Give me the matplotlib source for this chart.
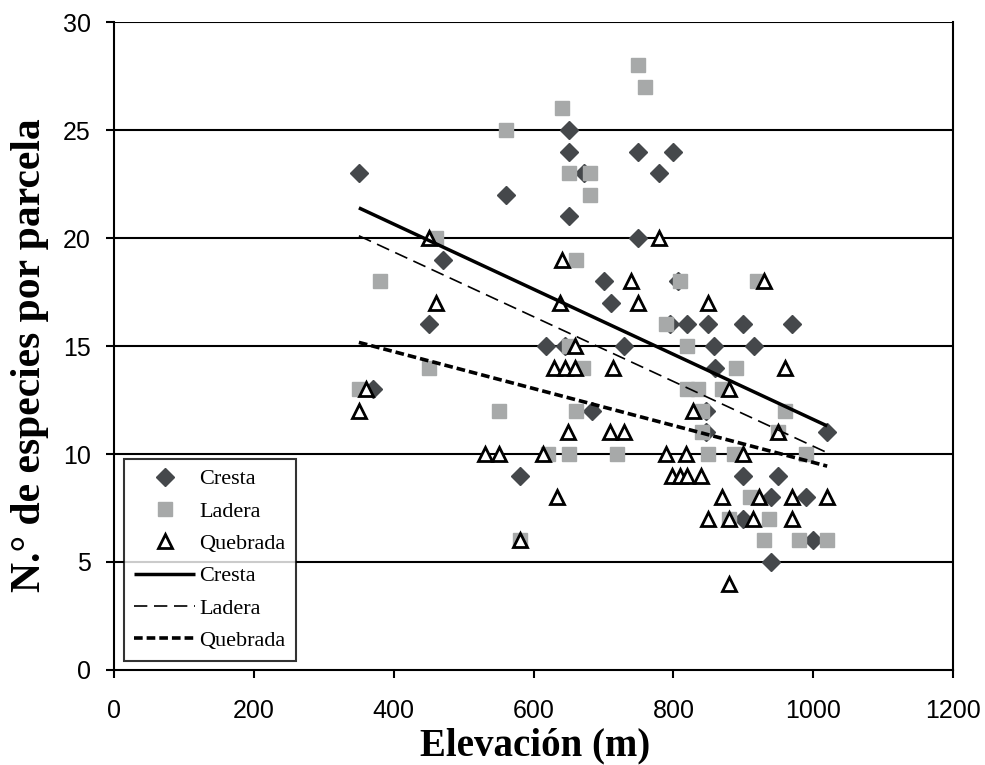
import matplotlib
matplotlib.use("Agg")
import matplotlib.pyplot as plt
import numpy as np

# datos
cresta_x = [350, 370, 450, 470, 560, 580, 618, 645, 650, 650, 650, 672, 684, 700, 710, 730,
            750, 750, 780, 800, 795, 806, 820, 846, 846, 850, 858, 860, 900, 900, 900, 915,
            940, 940, 950, 970, 990, 1000, 1020]
cresta_y = [23, 13, 16, 19, 22, 9, 15, 15, 25, 24, 21, 23, 12, 18, 17, 15,
            24, 20, 23, 24, 16, 18, 16, 12, 11, 16, 15, 14, 16, 9, 7, 15,
            8, 5, 9, 16, 8, 6, 11]

ladera_x = [350, 380, 450, 460, 550, 560, 580, 621, 640, 650, 650, 650, 660, 660, 670, 680,
            680, 720, 750, 760, 790, 810, 820, 820, 835, 841, 841, 850, 870, 880, 887, 890,
            910, 920, 930, 937, 950, 960, 980, 990, 1020]
ladera_y = [13, 18, 14, 20, 12, 25, 6, 10, 26, 23, 15, 10, 19, 12, 14, 23,
            22, 10, 28, 27, 16, 18, 15, 13, 13, 12, 11, 10, 13, 7, 10, 14,
            8, 18, 6, 7, 11, 12, 6, 10, 6]

quebrada_x = [350, 360, 450, 460, 530, 550, 580, 614, 629, 634, 638, 640, 645, 649, 659, 659,
              709, 713, 729, 739, 749, 780, 789, 798, 809, 818, 820, 828, 840, 850, 850, 869,
              880, 880, 880, 899, 914, 923, 930, 950, 960, 969, 969, 1020]
quebrada_y = [12, 13, 20, 17, 10, 10, 6, 10, 14, 8, 17, 19, 14, 11, 14, 15,
              11, 14, 11, 18, 17, 20, 10, 9, 9, 10, 9, 12, 9, 17, 7, 8,
              13, 7, 4, 10, 7, 8, 18, 11, 14, 8, 7, 8]

# rectas de tendencia (pendiente, intercepto)
trend_slope = [-0.01507, -0.01499, -0.00855]
trend_icpt = [26.67, 25.35, 18.16]
grupos = ["Cresta", "Ladera", "Quebrada"]

plt.rcParams['font.family'] = ['Liberation Serif', 'DejaVu Serif']

fig = plt.figure(figsize=(9.85, 7.65), dpi=100)
ax = fig.add_axes([0.116, 0.1242, 0.8515, 0.847])

for y in range(5, 31, 5):
    ax.axhline(y, color="black", lw=1.5, zorder=1)

ax.plot(cresta_x, cresta_y, ls="none", marker="D", ms=9, color="#45484b", mec="#45484b",
        label="Cresta", zorder=3)
ax.plot(ladera_x, ladera_y, ls="none", marker="s", ms=10, color="#a7a9a9", mec="#a7a9a9",
        label="Ladera", zorder=4)
ax.plot(quebrada_x, quebrada_y, ls="none", marker="^", ms=9.5, mfc="white", mec="black",
        mew=2, label="Quebrada", zorder=5)

xs = np.array([350, 1020])
estilos = [dict(ls="-", lw=2.5), dict(ls=(0, (8, 4)), lw=1.2), dict(ls=(0, (2.4, 1.1)), lw=2.6)]
for g, m, b, st in zip(grupos, trend_slope, trend_icpt, estilos):
    ax.plot(xs, m * xs + b, color="black", label=g, zorder=6, solid_capstyle="butt",
            dash_capstyle="butt", **st)

ax.set_xlim(0, 1200)
ax.set_ylim(0, 30)
ax.set_xticks(range(0, 1201, 200))
ax.set_yticks(range(0, 31, 5))
for lab in ax.get_xticklabels() + ax.get_yticklabels():
    lab.set_family("Liberation Sans")
    lab.set_fontsize(18)
ax.tick_params(direction="out", length=6, width=1.5)
ax.tick_params(axis="x", pad=15)
ax.tick_params(axis="y", pad=11)
for s in ax.spines.values():
    s.set_linewidth(1.5)
ax.spines["top"].set_visible(False)

ax.set_xlabel("Elevación (m)", fontsize=28, fontweight="bold", va="baseline")
ax.xaxis.set_label_coords(0.5016, -0.1315)
ax.set_ylabel("N.° de especies por parcela", fontsize=30, fontweight="bold")
ax.yaxis.set_label_coords(-0.078, 0.486)

leg = ax.legend(loc="lower left", bbox_to_anchor=(0.0116, 0.0139), borderaxespad=0,
                fontsize=16, frameon=True, fancybox=False, edgecolor="black",
                handlelength=2.75, handletextpad=0.2, labelspacing=0.53, borderpad=0.45)
leg.get_frame().set_linewidth(1.5)
leg.set_zorder(10)

fig.savefig("out.png", dpi=100)
